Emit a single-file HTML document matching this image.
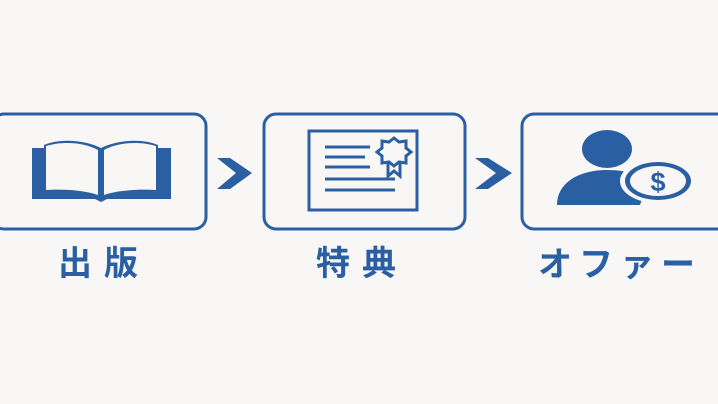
<!DOCTYPE html>
<html><head><meta charset="utf-8"><style>
body{margin:0;background:#f8f7f5;width:718px;height:404px;overflow:hidden}
svg{display:block}
text{font-family:"Liberation Sans","Noto Sans CJK JP",sans-serif;font-weight:bold;fill:#2b5fa3}
</style></head><body>
<svg width="718" height="404" viewBox="0 0 718 404">
<g fill="none" stroke="#2b5fa3" stroke-width="3">
<rect x="-8" y="114" width="214" height="115" rx="12"/>
<rect x="264" y="114" width="201" height="115" rx="12"/>
<rect x="522" y="114" width="210" height="115" rx="12"/>
</g>
<g fill="#2b5fa3">
<path d="M32 148 H44 V145 C60 138 85 140 101 148 C117 140 142 138 158 145 V148 H171 V199 H107 L101 202 L95 199 H32 Z"/>
<path fill="#f8f7f5" d="M46 146 C62 141 84 142 98 150 V195 C84 190 62 189 46 190 Z"/>
<path fill="#f8f7f5" d="M104 150 C118 142 140 141 156 146 V190 C140 189 118 190 104 195 Z"/>
<path d="M217 158 H230 L252 173 L230 189 H217 L236 173 Z"/>
<path d="M475 158 H488 L512 173 L488 189 H475 L496 173 Z"/>
<ellipse cx="607" cy="149" rx="25" ry="19"/>
<path d="M557 205 C557 182 580 170 607 170 C625 170 640 174 648 182 L640 205 Z"/>
<ellipse cx="657" cy="181" rx="37" ry="22" fill="#f8f7f5"/>
<ellipse cx="658" cy="181" rx="33" ry="19"/>
<ellipse cx="658" cy="181" rx="28" ry="15" fill="#f8f7f5"/>
</g>
<text x="658" y="191" font-size="27" text-anchor="middle">$</text>
<g fill="none" stroke="#2b5fa3" stroke-width="3">
<rect x="309" y="131" width="108" height="79"/>
<line x1="325" y1="147" x2="370" y2="147"/>
<line x1="325" y1="157" x2="365" y2="157"/>
<line x1="325" y1="167" x2="370" y2="167"/>
<line x1="325" y1="179" x2="395" y2="179"/>
<line x1="325" y1="190" x2="395" y2="190"/>
<path d="M388 162 V176 L394 171 L400 176 V162" fill="#f8f7f5"/>
<path fill="#f8f7f5" d="M394 138 L399 142 L406 141 L406 148 L411 152 L406 156 L406 163 L399 162 L394 166 L389 162 L382 163 L382 156 L377 152 L382 148 L382 141 L389 142 Z"/>
</g>
<text x="58" y="275" font-size="34" letter-spacing="12">出版</text>
<text x="316" y="275" font-size="34" letter-spacing="12">特典</text>
<text x="538" y="276" font-size="34" letter-spacing="8" textLength="165">オファー</text>
</svg>
</body></html>
